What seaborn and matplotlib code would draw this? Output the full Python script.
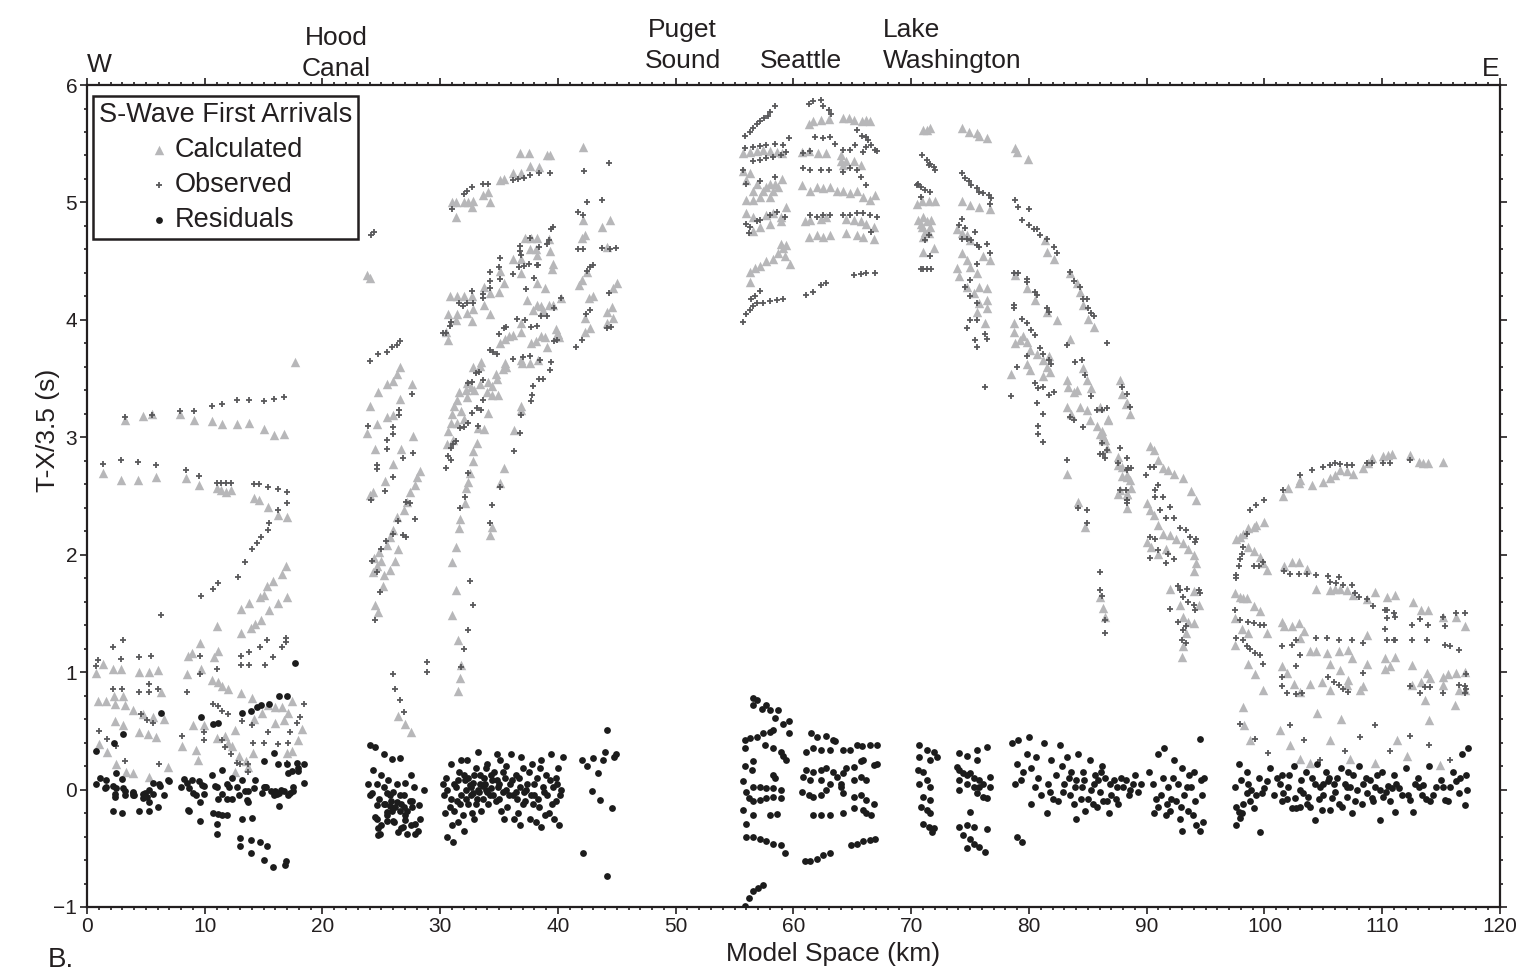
import numpy as np
import pandas as pd
import matplotlib
matplotlib.use("Agg")
import matplotlib.pyplot as plt
from matplotlib.ticker import MultipleLocator
import seaborn as sns

# ---- data: (model km, T-X/3.5 in s) ----
calc_west = [(3.2,3.15),(4.8,3.18),(5.5,3.20),(7.9,3.20),(9.1,3.15),(10.6,3.14),(11.5,3.11),(12.7,3.11),(13.8,3.12),(15.0,3.07),(15.9,3.02),(16.7,3.03),(17.7,3.64),
    (1.4,2.70),(2.9,2.64),(4.3,2.64),(5.9,2.66),(8.4,2.65),(9.5,2.59),(11.0,2.57),(11.4,2.55),(11.8,2.53),(12.2,2.55),(14.2,2.48),(14.6,2.47),(15.4,2.41),(16.2,2.34),(17.0,2.32),
    (16.9,1.90),(16.6,1.84),(15.8,1.78),(15.3,1.73),(15.0,1.66),(14.7,1.64),(13.8,1.59),(13.1,1.54),(17.0,1.64),(16.2,1.59),(15.5,1.53),(14.8,1.44),(14.3,1.41),(13.9,1.38),(13.1,1.33),
    (11.0,1.39),(9.6,1.25),(11.1,1.18),(10.8,1.13),(8.6,1.14),(8.9,1.16),(9.7,1.03),(8.5,0.98),(0.8,0.99),(1.4,1.07),(2.2,1.03),(2.9,1.03),(4.4,1.00),(5.3,1.00),(6.0,1.02),(6.3,0.83),
    (10.6,0.93),(11.1,0.92),(11.5,0.88),(12.0,0.86),(13.1,0.82),(14.0,0.78),(0.9,0.75),(1.6,0.75),(2.3,0.80),(2.4,0.73),(3.1,0.80),(3.2,0.72),(3.9,0.68),(4.8,0.64),(5.6,0.62),(6.5,0.60),
    (2.4,0.58),(3.1,0.55),(4.4,0.49),(5.2,0.47),(5.9,0.45),(1.0,0.39),(1.7,0.32),(2.5,0.22),(3.3,0.15),(3.9,0.14),(5.3,0.11),(6.9,0.19),(8.1,0.37),(9.0,0.55),(9.9,0.55),(9.4,0.25),(9.3,0.34),
    (11.0,0.44),(11.7,0.46),(12.0,0.40),(12.3,0.37),(12.6,0.51),(12.9,0.29),(13.5,0.24),(14.1,0.31),(14.2,0.60),(14.9,0.65),(15.4,0.72),(16.0,0.70),(16.6,0.70),(17.4,0.75),(16.0,0.57),
    (16.7,0.59),(17.1,0.65),(17.9,0.42),(18.3,0.52),(17.4,0.33),(17.0,0.31),(12.6,0.15),(13.7,0.19)]
obs_west = [(3.2,3.17),(5.5,3.19),(7.9,3.22),(9.1,3.22),(10.6,3.27),(11.5,3.28),(12.7,3.32),(13.8,3.32),(15.0,3.31),(15.9,3.33),(16.7,3.34),
    (1.4,2.77),(2.9,2.81),(4.3,2.79),(5.9,2.76),(8.4,2.72),(9.5,2.67),(11.0,2.61),(11.4,2.61),(11.8,2.61),(12.2,2.61),(14.2,2.60),(14.6,2.60),(15.4,2.58),(16.2,2.56),(17.0,2.53),
    (17.0,2.44),(16.2,2.38),(15.5,2.27),(15.4,2.21),(14.8,2.15),(14.4,2.10),(14.0,2.05),(13.4,1.94),(12.8,1.81),(11.1,1.76),(10.7,1.71),(9.7,1.65),(6.3,1.49),(17.7,4.71),
    (0.9,1.10),(0.8,1.05),(2.2,1.21),(3.1,1.27),(2.9,1.11),(4.4,1.13),(5.4,1.14),(5.3,0.90),(6.0,0.86),(4.4,0.83),(5.3,0.83),(2.2,0.86),(3.0,0.86),(8.5,0.83),(9.6,0.98),(11.0,1.03),
    (9.6,1.14),(13.1,1.14),(13.8,1.17),(14.7,1.21),(15.3,1.27),(16.6,1.21),(16.9,1.26),(16.9,1.29),(13.1,1.06),(13.8,1.06),(15.1,1.06),(15.8,1.13),(10.7,0.73),(11.1,0.71),(11.5,0.67),
    (12.0,0.64),(4.6,0.64),(5.6,0.57),(5.1,0.59),(1.0,0.50),(1.7,0.43),(2.5,0.37),(3.2,0.24),(6.1,0.22),(8.1,0.46),(9.9,0.49),(9.9,0.42),(11.5,0.42),(11.7,0.36),(12.2,0.30),(12.7,0.23),
    (13.0,0.22),(13.7,0.15),(13.2,0.58),(14.0,0.55),(15.4,0.49),(14.1,0.40),(15.0,0.40),(16.2,0.39),(17.1,0.40),(17.2,0.49),(17.8,0.57),(18.1,0.62),(18.4,0.73),(17.0,0.23),(13.7,0.22)]
res_west = [(0.8,0.05),(1.5,0.01),(1.6,0.02),(2.2,0.03),(2.4,-0.04),(2.4,-0.06),(2.2,-0.18),(3.0,-0.20),(3.1,0.01),(3.2,-0.05),(3.9,-0.03),(3.9,-0.05),(4.4,-0.18),(4.8,-0.04),
    (4.8,-0.07),(5.3,0.00),(5.3,-0.18),(5.3,-0.11),(5.6,-0.04),(6.0,-0.15),(6.5,-0.05),(6.1,0.05),(7.0,0.07),(8.0,0.02),(8.6,-0.17),(8.7,-0.18),(8.7,0.01),(9.0,-0.03),(9.3,-0.05),
    (9.6,-0.11),(9.6,-0.27),(9.9,0.03),(9.9,-0.04),(10.7,-0.20),(11.0,-0.29),(11.0,-0.38),(10.9,0.03),(11.1,-0.08),(11.1,-0.21),(11.5,-0.22),(11.9,-0.22),(11.5,-0.04),(11.9,-0.08),
    (12.3,-0.08),(12.1,0.02),(12.7,0.02),(12.9,-0.05),(13.0,-0.41),(13.0,-0.48),(13.2,-0.25),(13.4,-0.01),(13.6,-0.09),(13.7,-0.11),(13.9,-0.43),(13.9,-0.54),(14.0,-0.24),(14.2,0.01),
    (14.7,-0.45),(14.9,-0.03),(15.0,-0.60),(15.3,-0.48),(15.2,0.02),(15.0,0.02),(15.8,-0.66),(16.3,-0.14),(15.9,-0.05),(16.1,-0.04),(16.8,-0.64),(16.9,-0.61),(17.1,-0.05),(17.2,-0.03),
    (17.5,0.02),(16.3,-0.03),(16.7,-0.01),(0.8,0.33),(2.3,0.40),(3.1,0.47),(6.3,0.65),(9.7,0.62),(10.7,0.56),(11.1,0.57),(13.2,0.65),(13.9,0.67),(14.4,0.70),(14.8,0.72),(15.5,0.73),
    (16.3,0.80),(17.0,0.80),(17.7,1.08),(15.9,0.31),(15.0,0.24),(16.2,0.22),(17.0,0.22),(17.8,0.23),(18.4,0.22),(17.4,0.16),(17.9,0.18),(1.1,0.10),(1.6,0.08),(2.5,0.14),(3.0,0.09),
    (3.2,-0.01),(2.5,0.01),(3.9,-0.02),(4.0,-0.05),(4.9,-0.03),(5.1,-0.06),(5.6,0.06),(6.2,0.03),(6.9,0.08),(8.2,0.09),(8.5,0.06),(8.9,0.08),(9.5,0.07),(9.8,0.04),(10.6,0.12),
    (11.5,0.17),(11.0,0.02),(11.9,0.05),(12.3,0.10),(13.2,0.08),(13.7,-0.01),(14.3,0.08),(15.1,0.02),(15.6,-0.01),(16.0,-0.01),(16.5,0.00),(17.1,0.14),(17.5,-0.01),(17.9,0.16),(18.4,0.06)]

calc_hood = [(24.0,4.36),(23.8,4.38),(26.6,3.60),(26.3,3.54),(26.0,3.48),(25.5,3.45),(24.7,3.39),(24.0,3.27),(27.6,3.45),(26.6,3.33),(26.0,3.19),(25.5,3.17),(24.6,3.11),(23.8,3.04),
    (27.7,3.01),(24.5,2.90),(26.7,2.90),(26.0,2.77),(25.3,2.63),(24.3,2.53),(24.0,2.51),(28.3,2.71),(28.0,2.66),(27.9,2.59),(27.4,2.53),(27.2,2.45),(26.9,2.38),(26.3,2.32),(26.0,2.21),
    (25.7,2.15),(25.5,2.08),(26.4,2.05),(26.2,1.95),(25.7,1.87),(25.2,1.83),(25.1,1.73),(24.5,1.57),(24.7,1.51),(24.4,1.97),(24.8,2.02),(24.6,1.90),(25.0,1.95),(24.3,1.85),
    (26.4,0.63),(27.0,0.56),(27.5,0.49)]
obs_hood = [(24.1,4.72),(24.4,4.75),(24.0,3.65),(24.7,3.71),(25.5,3.73),(25.9,3.77),(26.3,3.79),(26.6,3.82),(23.9,3.10),(25.5,2.98),(26.0,3.03),(26.0,3.09),(26.5,3.19),(26.5,3.23),
    (27.6,3.37),(27.7,2.87),(24.6,2.76),(24.6,2.73),(25.5,2.90),(26.8,2.82),(26.0,2.66),(25.3,2.54),(24.1,2.47),(27.1,2.45),(27.4,2.44),(27.9,2.30),(26.4,2.29),(26.8,2.17),(27.1,2.15),
    (25.4,2.12),(26.0,2.18),(24.9,1.68),(24.5,1.44),(26.0,0.98),(26.2,0.86),(26.6,0.76),(26.9,0.66),(28.9,1.09),(28.9,1.00),(24.2,1.95),(25.0,2.05),(24.6,1.85)]
res_hood = [(24.0,0.38),(24.5,0.36),(25.2,0.30),(25.9,0.26),(26.6,0.27),(24.3,0.17),(25.0,0.12),(25.6,0.08),(26.3,0.05),(27.0,0.06),(27.8,0.02),(28.6,0.00),(24.2,-0.03),(24.8,-0.08),
    (25.3,-0.12),(25.8,-0.10),(26.2,-0.15),(26.7,-0.12),(27.2,-0.18),(27.6,-0.10),(28.2,-0.13),(24.6,-0.25),(25.0,-0.30),(25.5,-0.22),(26.1,-0.28),(26.8,-0.32),(27.5,-0.30),(28.1,-0.35),
    (24.9,-0.38),(26.4,-0.36),(27.0,-0.22),(25.7,-0.05),(26.9,-0.05),(28.3,-0.25),(27.5,0.12),(24.6,0.05),(25.9,-0.18),(23.9,0.05),(24.0,-0.05),(24.5,-0.23),(24.7,-0.33),(24.7,-0.39),
    (24.6,-0.13),(25.2,-0.12),(25.5,-0.19),(25.5,-0.27),(26.0,-0.27),(25.7,-0.14),(26.3,-0.11),(26.6,-0.05),(26.6,-0.18),(27.0,-0.26),(27.2,-0.38),(26.7,-0.33),(26.9,-0.15),(27.6,-0.15),
    (27.9,-0.29),(27.9,-0.38),(27.4,-0.10),(25.5,-0.03),(26.0,-0.02),(25.2,0.02)]

calc_mid = [(31.0,5.00),(31.3,5.00),(32.0,5.00),(32.4,5.00),(32.8,5.01),(32.7,4.96),(31.3,4.88),(33.6,5.06),(34.1,5.09),(34.2,5.00),(35.1,5.19),(35.4,5.20),(36.2,5.25),(36.9,5.25),
    (37.6,5.31),(38.4,5.30),(39.3,5.40),(36.8,5.42),(37.5,5.42),(39.1,5.40),(42.1,5.47),
    (37.2,4.70),(37.7,4.70),(38.2,4.70),(37.6,4.60),(38.1,4.60),(39.2,4.69),(39.3,4.59),(36.2,4.52),(36.9,4.52),(38.2,4.55),(39.6,4.48),(39.5,4.43),(36.9,4.40),(35.1,4.42),(35.4,4.31),
    (35.0,4.24),(33.7,4.28),(34.2,4.23),(30.8,4.20),(31.4,4.20),(32.0,4.20),(32.7,4.20),(33.7,4.13),(34.2,4.05),(32.8,4.09),(32.3,4.06),(31.4,4.05),(30.7,4.05),(32.7,3.99),(31.3,4.00),
    (30.5,3.90),(30.7,3.83),(38.2,4.31),(38.9,4.27),(37.4,4.17),(38.2,4.13),(38.6,4.12),(39.2,4.13),(39.6,4.13),(40.3,4.19),(37.9,4.08),(38.7,4.08),(39.8,3.92),(40.0,3.88),(39.8,3.86),
    (40.1,3.85),(38.9,3.85),(38.6,3.86),(38.1,3.82),(37.7,3.80),(36.9,3.97),(36.9,3.90),(36.2,3.87),(35.8,3.86),(35.5,3.84),(35.1,3.80),(35.5,3.63),(35.3,3.58),(35.6,3.60),(36.9,3.66),
    (36.95,3.63),(37.6,3.63),(38.3,3.66),(39.1,3.77),(33.5,3.64),(33.4,3.61),(32.8,3.60),(34.7,3.54),(34.8,3.50),(32.3,3.46),(32.6,3.43),(32.2,3.40),(32.9,3.40),(33.4,3.45),(34.1,3.47),
    (34.4,3.44),(34.0,3.39),(34.4,3.36),(34.9,3.36),(31.6,3.39),(31.4,3.32),(31.2,3.27),(31.0,3.20),(30.9,3.12),(31.8,3.22),(32.0,3.16),(32.3,3.34),(31.4,3.12),(30.7,3.05),(30.6,2.94),
    (31.1,2.98),(33.2,3.08),(33.7,3.07),(34.1,3.21),(33.1,2.95),(32.8,2.88),(32.8,2.80),(32.5,2.70),(32.4,2.62),(32.2,2.57),(32.1,2.44),(31.7,2.30),(31.6,2.23),(31.3,2.07),(36.9,3.27),
    (36.9,3.23),(36.3,3.06),(35.4,2.74),(35.1,2.61),(34.4,2.24),(34.2,2.17),(44.4,4.85),(43.7,4.79),(42.1,4.85),(42.0,4.70),(42.3,4.72),(44.2,4.62),(42.0,4.34),(41.8,4.30),(42.5,4.41),
    (45.0,4.31),(44.7,4.27),(43.0,4.20),(42.6,4.19),(44.6,4.11),(44.2,4.07),(44.7,4.02),(44.2,3.97),(42.3,4.02),(42.7,3.93),(42.3,3.90),(31.0,1.94),(31.3,1.70),(31.0,1.49),(31.5,1.27),
    (31.8,1.06),(31.7,0.95),(31.5,0.84)]
obs_mid = [(31.0,4.94),(32.0,5.07),(32.3,5.10),(32.7,5.13),(33.6,5.16),(34.1,5.16),(36.2,5.19),(36.6,5.20),(37.1,5.21),(37.6,5.23),(38.4,5.25),(39.3,5.25),(42.2,5.27),(44.3,5.34),
    (39.4,4.77),(39.6,4.79),(39.2,4.68),(36.8,4.63),(36.8,4.59),(36.9,4.55),(37.6,4.70),(38.4,4.62),(37.5,4.48),(37.1,4.46),(36.7,4.45),(38.3,4.47),(36.2,4.39),(35.1,4.53),(35.0,4.45),
    (34.2,4.41),(34.2,4.33),(35.1,4.35),(34.2,4.27),(33.6,4.22),(33.6,4.19),(32.7,4.25),(31.6,4.14),(31.9,4.12),(32.3,4.14),(32.8,4.14),(30.9,3.98),(30.8,3.95),(30.5,3.89),(30.2,3.89),
    (37.3,4.26),(38.0,4.36),(38.2,4.47),(39.1,4.65),(40.3,4.19),(38.6,4.03),(39.1,4.03),(39.7,4.10),(39.9,3.83),(39.7,3.82),(37.7,3.94),(38.2,3.95),(36.5,4.01),(37.2,4.00),(35.0,3.88),
    (35.4,3.93),(35.6,3.94),(34.2,3.74),(34.5,3.73),(34.8,3.71),(36.2,3.67),(37.0,3.68),(37.6,3.69),(38.5,3.66),(39.4,3.64),(39.3,3.57),(38.4,3.50),(38.7,3.50),(37.9,3.44),(37.8,3.36),
    (37.7,3.31),(36.9,3.19),(36.8,3.04),(36.3,2.88),(34.4,2.42),(34.2,2.27),(35.1,2.58),(33.3,3.56),(33.0,3.55),(33.6,3.49),(32.7,3.47),(32.4,3.46),(33.6,3.32),(33.5,3.23),(33.1,3.25),
    (32.7,3.21),(32.4,3.12),(32.0,3.09),(31.7,3.08),(33.2,3.10),(31.3,2.97),(31.1,2.94),(30.9,2.91),(30.7,2.84),(30.9,2.81),(30.5,2.74),(32.4,2.70),(32.1,2.49),(31.7,2.40),
    (42.5,5.00),(43.7,5.02),(41.7,4.92),(42.1,4.89),(41.7,4.60),(42.1,4.60),(43.7,4.61),(44.4,4.60),(44.9,4.61),(43.0,4.47),(42.7,4.45),(42.5,4.42),(44.3,4.23),(42.7,4.08),(42.4,4.05),
    (44.2,3.93),(44.5,3.94),(42.0,3.83),(41.5,3.77),(32.5,1.78),(32.8,1.57),(32.4,1.36),(31.8,1.04),(32.0,1.20)]
res_mid = [(30.3,-0.05),(30.5,0.10),(30.8,-0.15),(30.9,0.22),(31.0,-0.30),(31.2,0.05),(31.4,-0.10),(31.6,0.15),(31.8,-0.05),(31.9,-0.22),(32.1,0.08),(32.3,0.25),(32.4,-0.12),
    (32.6,0.02),(32.8,-0.03),(32.9,0.12),(33.1,-0.08),(33.2,0.32),(33.4,0.05),(33.5,-0.18),(33.7,0.10),(33.9,0.00),(34.0,0.22),(34.2,-0.05),(34.4,0.08),(34.6,0.15),(34.7,-0.10),
    (34.9,0.02),(35.1,0.25),(35.3,-0.02),(35.5,0.10),(35.7,-0.15),(35.9,0.05),(36.0,0.30),(36.2,-0.05),(36.4,0.12),(36.6,-0.20),(36.8,0.02),(37.0,0.18),(37.2,-0.10),(37.4,0.05),
    (37.6,-0.25),(37.8,0.22),(38.0,-0.05),(38.2,0.10),(38.4,-0.15),(38.6,0.25),(38.8,-0.02),(39.0,0.12),(39.2,-0.20),(39.4,0.30),(39.6,0.02),(39.8,-0.10),(40.0,0.18),(40.2,-0.05),
    (40.4,0.28),(40.1,-0.30),(30.6,-0.40),(31.1,-0.45),(31.5,-0.28),(32.0,-0.35),(32.7,-0.20),(33.0,0.18),(33.3,-0.02),(34.1,-0.12),(35.0,-0.08),(36.5,-0.08),(37.1,-0.02),(38.1,-0.28),
    (38.9,-0.22),(39.7,-0.25),(32.2,0.00),(32.5,0.04),(33.6,0.03),(34.3,0.01),(31.3,0.02),(30.4,-0.20),(34.8,0.30),(35.6,0.20),(36.9,0.28),(38.5,0.18),(39.9,0.05),(37.9,-0.12),
    (36.3,-0.25),(35.2,-0.18),(30.2,0.05),(30.6,0.00),(30.9,-0.08),(31.2,-0.18),(31.5,0.08),(31.7,-0.12),(32.0,0.12),(32.2,-0.08),(32.4,0.10),(32.6,-0.05),(32.8,0.06),(33.0,-0.12),
    (33.2,0.00),(33.4,0.12),(33.6,-0.08),(33.8,0.05),(34.0,-0.02),(34.3,0.12),(34.5,-0.05),(34.8,0.08),(35.0,0.05),(35.3,0.15),(35.6,0.00),(35.8,-0.05),(36.1,0.08),(36.4,-0.02),
    (36.7,0.10),(37.0,-0.12),(37.3,0.00),(37.5,0.15),(37.7,-0.05),(38.0,0.05),(38.3,-0.08),(38.7,0.02),(39.1,-0.05),(39.3,0.08),(39.5,-0.12),(39.8,0.10),(40.3,0.00),(33.9,0.18),
    (32.9,-0.25),(31.8,0.25),(35.4,-0.25),(36.8,-0.30),(38.6,-0.32),
    (42.0,0.25),(43.0,0.27),(43.8,0.25),(44.2,0.51),(44.0,0.32),(44.8,0.28),(43.4,0.14),(42.9,-0.01),(43.6,-0.09),(44.6,-0.16),(42.1,-0.54),(44.2,-0.74),(42.5,0.20),(44.9,0.30)]

calc_seattle = [(61.3,5.67),(62.3,5.70),(63.0,5.71),(64.2,5.72),(65.1,5.70),(65.8,5.69),(66.5,5.69),(61.7,5.69),(64.7,5.72),(66.2,5.70),
    (55.7,5.42),(56.3,5.43),(56.9,5.44),(57.4,5.45),(58.0,5.44),(58.6,5.43),(59.0,5.42),(60.7,5.43),(61.3,5.44),(62.1,5.42),(62.8,5.42),(64.0,5.40),(64.5,5.35),(65.1,5.35),(65.7,5.32),
    (55.7,5.27),(56.0,5.19),(56.3,5.25),(56.6,5.10),(56.9,5.16),(57.4,5.10),(57.7,5.13),(58.0,5.16),(58.4,5.16),(58.7,5.13),(59.0,5.20),(60.7,5.15),(61.4,5.10),(62.0,5.13),(62.5,5.12),
    (63.1,5.13),(63.7,5.10),(64.2,5.10),(64.8,5.08),(65.4,5.10),(65.9,5.05),(66.5,5.02),(66.9,5.06),(64.0,5.35),(64.2,5.32),(57.2,5.05),(56.6,5.02),(56.0,5.02),(58.3,5.10),(58.0,5.05),
    (56.0,4.91),(56.6,4.88),(57.7,4.89),(58.3,4.91),(58.9,4.88),(59.4,4.96),(61.0,4.84),(61.4,4.85),(62.3,4.86),(62.8,4.88),(64.5,4.86),(65.1,4.85),(65.7,4.84),(66.2,4.82),(66.8,4.79),
    (61.3,4.71),(62.0,4.72),(62.5,4.71),(63.1,4.72),(64.5,4.74),(65.4,4.72),(65.9,4.71),(66.8,4.69),
    (56.3,4.32),(56.3,4.41),(56.7,4.44),(57.2,4.46),(57.7,4.50),(58.3,4.52),(58.7,4.57),(59.1,4.61),(59.4,4.64),(59.7,4.48),(59.3,4.54),(58.9,4.65),(56.6,4.76),(57.2,4.79),(58.0,4.82),(58.9,4.84)]
obs_seattle = [(55.9,5.57),(56.3,5.60),(56.6,5.63),(56.9,5.67),(57.2,5.69),(57.5,5.72),(57.8,5.74),(58.0,5.77),(58.4,5.82),(61.3,5.84),(61.7,5.86),(62.3,5.87),(62.5,5.82),(63.0,5.79),(63.2,5.75),
    (55.9,5.46),(56.6,5.47),(57.2,5.48),(57.7,5.49),(58.4,5.50),(59.1,5.49),(59.6,5.55),(56.6,5.35),(57.2,5.36),(57.7,5.38),(58.3,5.39),(58.9,5.40),(59.4,5.43),(60.8,5.42),(61.4,5.44),
    (61.8,5.56),(62.5,5.55),(63.1,5.56),(63.5,5.50),(64.2,5.45),(64.8,5.45),(65.2,5.49),(65.9,5.43),(66.2,5.47),(66.9,5.45),(66.2,5.56),(66.6,5.49),(67.1,5.44),(65.4,5.62),(65.8,5.57),(66.3,5.53),
    (55.7,5.28),(56.0,5.16),(57.2,5.18),(58.4,5.22),(60.8,5.29),(61.4,5.28),(62.3,5.28),(63.0,5.28),(64.2,5.26),(64.8,5.29),(65.4,5.28),(65.7,5.22),(66.2,5.15),
    (56.0,4.82),(56.3,4.79),(56.2,4.74),(56.9,4.84),(57.2,4.85),(58.0,4.89),(58.6,4.92),(59.3,4.88),(61.4,4.89),(62.0,4.88),(62.5,4.89),(63.1,4.89),(64.2,4.89),(64.8,4.89),(65.4,4.91),
    (65.9,4.91),(66.5,4.89),(67.1,4.88),(66.6,4.75),
    (55.7,3.98),(56.0,4.05),(56.3,4.08),(56.6,4.12),(56.9,4.14),(57.4,4.14),(58.0,4.16),(58.6,4.17),(59.1,4.18),(56.4,4.18),(56.7,4.20),(57.2,4.25),(61.1,4.21),(61.7,4.24),(62.3,4.30),
    (62.8,4.31),(65.1,4.38),(65.7,4.39),(66.2,4.40),(66.9,4.40)]
res_seattle = [(56.6,0.78),(56.9,0.76),(56.6,0.72),(57.3,0.69),(57.7,0.72),(58.0,0.68),(58.7,0.68),(58.4,0.61),(59.1,0.56),(59.6,0.58),(59.6,0.48),(55.9,0.42),(56.3,0.44),(56.9,0.45),
    (57.4,0.48),(58.0,0.49),(58.3,0.51),(55.9,0.35),(57.6,0.38),(58.3,0.35),(58.9,0.32),(59.1,0.29),(59.4,0.25),(55.9,0.20),(56.5,0.17),(56.6,0.24),(58.3,0.12),(58.4,0.10),(55.7,0.07),
    (56.0,-0.02),(56.6,0.02),(57.2,0.02),(57.7,0.01),(58.3,0.01),(58.9,0.00),(56.2,-0.07),(56.6,-0.10),(57.2,-0.09),(57.7,-0.07),(58.3,-0.06),(58.9,-0.07),(55.7,-0.17),(56.6,-0.22),
    (58.0,-0.22),(58.6,-0.21),(56.0,-0.29),(56.0,-0.40),(56.6,-0.40),(57.2,-0.42),(57.7,-0.44),(58.3,-0.46),(58.9,-0.47),(59.3,-0.54),(55.9,-0.99),(56.2,-0.92),(56.6,-0.86),(57.0,-0.84),
    (57.4,-0.81),(61.5,0.48),(62.0,0.45),(62.8,0.46),(63.4,0.42),(63.5,0.41),(61.1,0.32),(61.7,0.35),(62.3,0.34),(63.1,0.34),(64.2,0.34),(64.8,0.34),(65.4,0.38),(65.8,0.37),(66.5,0.38),
    (67.1,0.38),(61.1,0.17),(61.7,0.15),(62.3,0.17),(62.8,0.18),(63.4,0.15),(63.7,0.11),(64.2,0.14),(64.5,0.18),(65.1,0.19),(65.7,0.24),(65.9,0.25),(66.8,0.21),(67.1,0.22),(60.8,0.11),
    (61.4,0.08),(62.3,0.08),(63.1,0.05),(64.0,0.05),(65.1,0.08),(65.7,0.11),(66.2,0.08),(60.7,-0.02),(61.3,-0.05),(61.7,-0.06),(62.3,-0.05),(62.8,0.00),(64.0,0.02),(64.2,-0.03),
    (65.1,-0.06),(65.7,-0.05),(66.2,-0.09),(66.8,-0.12),(61.7,-0.22),(62.3,-0.22),(63.1,-0.22),(64.2,-0.20),(65.1,-0.16),(65.9,-0.17),(66.2,-0.20),(66.6,-0.22),(61.0,-0.61),(61.4,-0.61),
    (62.0,-0.59),(62.5,-0.56),(63.1,-0.54),(64.9,-0.47),(65.4,-0.46),(65.9,-0.44),(66.5,-0.43),(66.9,-0.42)]

calc_lake = [(71.0,5.62),(71.6,5.63),(71.3,5.62),(74.3,5.63),(74.9,5.60),(75.6,5.59),(75.8,5.57),(76.4,5.55),(78.8,5.46),(79.0,5.43),(79.9,5.37),
    (70.5,4.99),(70.9,5.01),(71.5,5.01),(72.0,5.01),(70.6,4.85),(71.0,4.88),(71.3,4.84),(71.6,4.79),(70.9,4.79),(71.2,4.75),(71.5,4.74),(71.0,4.71),(70.8,4.82),(71.7,4.85),(71.0,4.58),(71.9,4.61),
    (74.3,5.01),(75.0,4.98),(75.8,4.96),(76.7,4.94),(73.9,4.77),(74.3,4.74),(74.7,4.72),(75.0,4.68),(74.3,4.57),(74.7,4.51),(75.0,4.45),(75.6,4.40),(73.9,4.44),(74.1,4.37),(74.7,4.28),
    (75.8,4.28),(76.4,4.27),(75.3,4.23),(75.8,4.14),(76.4,4.17),(75.6,4.07),(76.3,3.97),(76.4,4.10),(76.7,4.51),(76.1,4.54),
    (78.7,3.97),(78.7,3.90),(78.8,3.80),(79.2,3.83),(79.5,3.86),(79.8,3.81),(80.1,3.74),(80.7,3.71),(81.2,3.66),(81.5,3.60),(81.8,3.56),(81.2,3.52),(80.1,3.57),(78.5,3.54),(79.8,3.62),
    (81.7,3.69),(78.8,4.38),(79.8,4.27),(80.5,4.17),(81.5,4.07),(82.4,4.00),(81.4,4.68),(81.5,4.58),(82.1,4.52),
    (83.5,4.40),(84.1,4.31),(84.3,4.24),(84.6,4.13),(85.0,4.01),(85.5,3.94),(83.5,3.84),(84.6,3.59),(84.9,3.49),(85.3,3.42),(83.2,3.49),(83.3,3.43),(83.8,3.39),(84.1,3.40),(84.3,3.26),
    (84.9,3.23),(83.2,3.26),(83.6,3.20),(85.2,3.15),(86.0,3.26),(86.7,3.16),(85.8,3.10),(86.0,3.03),(86.3,2.98),(86.6,2.91),(83.2,2.69),(84.2,2.45),(84.8,2.24),(87.7,3.49),(87.9,3.37),
    (88.3,3.29),(87.6,2.83),(87.9,2.75),(88.3,2.66),(87.7,2.55),(88.3,2.52),
    (88.2,3.28),(88.6,3.20),(86.7,3.15),(86.3,3.01),(86.5,2.98),(86.2,3.05),(87.6,2.76),(87.9,2.67),(88.3,2.68),(88.6,2.64),(88.7,2.57),(87.6,2.52),(88.3,2.52),(88.3,2.40),
    (90.3,2.93),(90.6,2.89),(91.0,2.81),(91.4,2.74),(91.8,2.72),(92.3,2.69),(93.1,2.65),(93.8,2.54),(94.2,2.47),(90.0,2.44),(90.3,2.38),(90.6,2.34),(91.0,2.25),(91.4,2.18),(92.0,2.17),
    (92.5,2.13),(93.1,2.10),(93.5,2.05),(94.0,2.00),(94.2,1.93),(94.0,1.86),(90.0,2.11),(90.4,2.07),(91.0,2.01),(91.6,2.05),(92.0,1.71),(92.8,1.57),(94.0,1.69),(94.4,1.57),(93.1,1.47),
    (93.5,1.43),(94.0,1.42),(93.3,1.33),(93.1,1.22),(93.0,1.13),(86.0,1.64),(86.3,1.55),(86.5,1.47)]
obs_lake = [(70.9,5.40),(71.3,5.36),(71.6,5.33),(71.9,5.30),(72.0,5.28),(71.5,5.32),(70.6,5.16),(70.8,5.13),(71.2,5.11),(71.6,5.09),(70.8,5.05),(70.5,5.15),
    (74.3,5.25),(74.6,5.21),(74.9,5.18),(75.1,5.15),(75.6,5.12),(75.8,5.09),(76.1,5.08),(76.6,5.06),(76.8,5.04),(76.7,4.99),(71.2,4.68),(71.5,4.72),(71.6,4.54),(70.8,4.43),(71.0,4.43),
    (71.3,4.43),(71.7,4.43),(74.3,4.86),(74.1,4.81),(74.6,4.78),(74.7,4.69),(75.1,4.68),(75.6,4.64),(74.3,4.69),(75.4,4.75),(75.8,4.62),(76.4,4.65),(76.7,4.57),(75.6,4.48),(75.0,4.34),
    (74.6,4.28),(75.0,4.20),(75.6,4.14),(75.0,4.00),(75.6,4.00),(74.7,3.93),(75.4,3.83),(76.3,3.88),(76.4,3.84),(75.6,3.77),(76.3,3.43),
    (78.8,5.02),(79.1,4.96),(80.0,4.94),(79.4,4.85),(80.0,4.81),(80.4,4.77),(80.7,4.77),(80.9,4.72),(81.5,4.69),(82.1,4.62),(82.4,4.57),(78.7,4.40),(79.1,4.40),(79.8,4.35),(79.8,4.32),
    (80.5,4.24),(80.7,4.21),(81.5,4.10),(81.7,4.07),(78.7,4.13),(78.7,4.10),(79.4,4.01),(79.8,3.97),(80.2,3.91),(80.5,3.87),(79.0,3.60),(79.8,3.69),(80.9,3.76),(81.2,3.71),(81.7,3.66),
    (81.9,3.62),(80.5,3.46),(80.8,3.42),(81.2,3.43),(81.7,3.36),(82.1,3.39),(78.5,3.35),(80.7,3.29),(81.2,3.20),(80.8,3.10),(80.8,3.03),(81.2,2.96),
    (83.5,4.41),(83.8,4.33),(84.3,4.28),(84.6,4.18),(84.9,4.18),(85.0,4.10),(85.3,4.06),(85.5,4.03),(83.2,3.79),(83.9,3.64),(84.5,3.66),(84.8,3.53),(85.3,3.35),(83.5,3.17),(83.8,3.15),
    (84.6,3.09),(85.8,3.23),(86.2,3.23),(86.0,2.86),(86.6,2.89),(83.2,2.81),(84.2,2.40),(84.9,2.38),(84.9,2.27),(86.6,3.80),(87.9,3.43),(88.3,3.37),(87.6,2.78),(88.3,2.72),(87.7,2.55),
    (88.3,2.47),(86.2,3.23),(86.6,3.25),(88.6,3.26),(87.7,2.91),(88.3,2.82),(88.4,2.74),(88.7,2.74),(88.2,2.55),(88.3,2.47),(88.3,2.44),(86.3,2.86),(86.5,2.82),(86.2,2.95),
    (89.9,2.68),(90.3,2.75),(90.6,2.75),(90.7,2.55),(91.0,2.59),(90.7,2.49),(91.4,2.49),(91.1,2.38),(91.6,2.31),(92.3,2.31),(92.0,2.41),(92.8,2.23),(93.3,2.21),(93.7,2.15),(94.1,2.11),
    (94.2,2.13),(90.3,2.15),(90.7,2.13),(91.0,2.04),(91.8,2.01),(92.3,1.96),(91.6,1.93),(90.3,1.97),(92.7,1.73),(92.8,1.70),(93.4,1.71),(94.4,1.70),(94.5,1.67),(93.1,1.64),(93.5,1.60),
    (94.0,1.57),(94.1,1.53),(92.0,1.54),(92.7,1.43),(93.1,1.36),(93.3,1.39),(93.0,1.27),(93.3,1.25),(86.0,1.85),(86.0,1.70),(86.2,1.65),(86.5,1.44),(86.5,1.33)]
res_lake = [(70.7,0.38),(71.3,0.34),(71.9,0.32),(72.2,0.28),(70.7,0.28),(71.6,0.25),(70.6,0.17),(71.0,0.15),(71.3,0.08),(70.7,0.05),(71.6,0.02),(71.0,-0.06),(71.6,-0.09),(70.8,-0.15),
    (71.3,-0.17),(71.6,-0.20),(71.0,-0.29),(71.5,-0.32),(71.8,-0.36),(71.9,-0.33),(73.9,0.19),(74.1,0.17),(74.4,0.14),(74.7,0.12),(75.0,0.14),(75.3,0.10),(75.8,0.08),(76.1,0.05),
    (76.7,0.11),(76.7,0.02),(74.1,0.08),(74.7,0.05),(75.3,0.02),(75.6,-0.03),(76.1,-0.06),(76.4,-0.07),(75.0,-0.19),(74.1,-0.32),(74.7,-0.30),(75.3,-0.32),(76.4,-0.34),(74.4,-0.39),
    (75.0,-0.42),(75.3,-0.46),(75.8,-0.49),(76.3,-0.53),(74.7,-0.50),(74.7,0.29),(75.6,0.25),(75.6,0.34),(76.4,0.36),(74.1,0.00),(75.8,0.02),(74.1,0.31),
    (78.6,0.40),(79.1,0.42),(80.0,0.45),(81.3,0.40),(82.6,0.38),(79.0,0.22),(79.5,0.15),(80.2,0.18),(80.8,0.10),(81.6,0.05),(82.3,0.12),(78.8,0.05),(79.3,0.08),(80.5,0.02),(81.0,-0.05),
    (81.8,-0.02),(82.5,-0.10),(83.0,0.05),(83.5,-0.05),(84.0,0.08),(84.5,0.02),(85.0,-0.08),(85.5,0.05),(86.0,-0.02),(86.5,0.10),(87.0,-0.05),(87.5,0.02),(88.2,0.08),(88.8,0.05),
    (89.3,-0.02),(84.2,0.30),(85.2,0.25),(86.2,0.20),(85.8,-0.15),(84.8,-0.18),(83.8,-0.12),(86.8,-0.20),(87.6,-0.12),(84.0,-0.25),(80.2,-0.12),(79.0,-0.40),(79.4,-0.45),(81.5,-0.20),
    (82.8,0.20),(83.2,0.28),(84.6,0.15),(85.6,0.12),(86.6,-0.10),(87.2,0.08),(88.5,-0.05),(89.0,0.12),(91.0,0.30),(91.5,0.35),(92.3,0.25),(93.0,0.18),(94.0,0.15),(94.5,0.43),(90.5,0.05),
    (91.2,-0.05),(91.8,0.02),(92.5,-0.10),(93.2,-0.05),(93.8,0.02),(94.6,0.08),(91.0,-0.15),(91.6,-0.22),(92.0,-0.18),(92.8,-0.25),(93.5,-0.18),(94.2,-0.30),(94.8,-0.28),(90.8,-0.08),
    (93.0,-0.35),(94.5,-0.35),(92.2,0.10),(93.6,0.12),(90.2,0.15),(79.8,0.30),(80.6,0.28),(81.9,0.25),(82.0,-0.08),(82.9,-0.02),(83.4,0.10),(83.9,0.02),(84.4,-0.08),(85.3,0.00),
    (85.9,0.08),(86.3,-0.10),(86.9,0.05),(87.4,-0.08),(88.0,0.02),(88.6,0.00),(89.5,0.05),(84.7,0.08),(85.4,-0.12),(83.6,0.15),(86.1,0.15),(87.8,0.10),(91.4,0.10),(92.1,-0.08),
    (92.7,0.05),(93.4,0.02),(94.1,-0.10),(94.7,-0.05),(91.7,-0.12),(93.9,-0.22),(92.9,-0.15),(90.6,-0.20),(94.9,0.10)]

calc_east = [(97.6,2.13),(97.9,2.15),(98.2,2.18),(98.6,2.23),(99.1,2.24),(99.3,2.25),(100.0,2.28),(101.6,2.50),(102.0,2.57),(102.9,2.61),(103.0,2.64),(104.0,2.59),(105.0,2.62),
    (105.6,2.65),(106.0,2.68),(106.4,2.72),(107.0,2.71),(107.5,2.69),(108.4,2.74),(108.8,2.78),(109.1,2.82),(110.1,2.84),(110.5,2.85),(110.8,2.86),(112.4,2.85),(113.1,2.79),(113.5,2.78),
    (113.9,2.78),(115.2,2.79),(98.6,2.07),(99.1,2.03),(99.6,1.98),(99.9,1.93),(100.2,1.87),
    (101.7,1.90),(102.3,1.94),(102.9,1.94),(103.6,1.88),(104.4,1.71),(105.6,1.70),(106.0,1.71),(106.4,1.71),(107.0,1.70),(107.5,1.66),(108.7,1.62),(109.4,1.68),(110.4,1.64),(111.1,1.66),
    (112.6,1.60),(113.3,1.53),(113.9,1.53),(115.2,1.47),(116.3,1.47),(117.0,1.39),
    (97.5,1.67),(97.9,1.64),(98.2,1.63),(98.5,1.63),(99.1,1.56),(99.6,1.52),(97.5,1.46),(98.1,1.37),(98.6,1.33),(100.2,1.33),(101.5,1.43),(101.7,1.39),(102.3,1.39),(102.9,1.42),(103.0,1.29),
    (103.4,1.35),(103.9,1.18),(104.4,1.18),(105.3,1.16),(106.3,1.18),(107.1,1.19),(107.4,1.12),(108.7,1.32),(105.6,1.07),(106.4,1.02),(107.1,0.93),(108.4,0.88),(108.7,1.07),(110.2,1.12),
    (111.1,1.13),(112.5,1.06),(113.8,0.99),(114.1,0.95),(115.2,0.96),(115.6,0.98),(116.3,0.99),(117.0,1.00),(110.2,1.03),(110.7,1.05),(101.5,1.05),(101.9,0.99),(102.5,0.90),(103.0,0.83),
    (103.9,0.90),(104.9,0.92),(105.6,0.85),(107.0,0.89),(108.1,0.85),(112.5,0.89),(113.3,0.92),(115.2,0.89),(116.5,0.85),(97.5,1.23),(98.6,1.07),(99.2,0.98),(99.9,0.85),
    (98.2,0.70),(98.3,0.55),(98.8,0.42),(101.3,0.51),(102.2,0.38),(103.0,0.26),(103.9,0.23),(105.6,0.42),(107.3,0.26),(109.4,0.23),(111.3,0.42),(112.1,0.29),(113.6,0.76),(114.0,0.59),
    (114.9,0.21),(116.2,0.72),(117.0,0.85),(106.5,0.60),(104.5,0.65)]
obs_east = [(97.6,1.80),(97.6,1.83),(97.8,1.90),(97.9,1.96),(98.1,2.01),(98.2,2.07),(98.5,2.18),(98.8,2.38),(99.3,2.42),(100.0,2.47),(101.6,2.55),(103.0,2.68),(104.0,2.72),(105.0,2.75),
    (105.6,2.76),(106.0,2.78),(106.4,2.77),(107.0,2.76),(107.4,2.76),(108.7,2.78),(109.1,2.78),(110.1,2.78),(110.7,2.78),(112.4,2.81),(99.1,1.90),(99.5,1.90),(99.9,1.94),
    (101.7,1.86),(102.2,1.84),(102.9,1.84),(103.6,1.84),(104.4,1.83),(105.4,1.82),(106.3,1.81),(105.6,1.77),(106.1,1.76),(106.7,1.74),(107.4,1.74),(107.7,1.67),(108.0,1.64),(108.7,1.62),
    (109.2,1.56),(110.4,1.53),(111.0,1.50),(111.1,1.47),(110.4,1.46),(110.2,1.37),(110.4,1.27),(111.0,1.27),(112.5,1.40),(113.2,1.45),(113.9,1.40),(115.2,1.47),(116.3,1.50),(117.0,1.50),
    (115.3,1.39),(115.3,1.23),(115.8,1.22),(116.5,1.19),
    (97.5,1.53),(97.9,1.44),(98.6,1.43),(99.1,1.42),(99.6,1.40),(100.0,1.40),(97.6,1.29),(98.2,1.27),(98.5,1.22),(98.8,1.20),(99.2,1.16),(99.6,1.15),(99.9,1.07),(101.5,1.22),(102.3,1.23),
    (102.7,1.27),(103.0,1.15),(102.7,1.05),(101.5,0.96),(101.5,0.88),(101.9,0.82),(102.7,0.81),(103.2,0.82),(104.4,1.29),(105.3,1.29),(106.3,1.27),(107.4,1.27),(108.4,1.25),(108.4,0.99),
    (107.1,0.83),(110.2,1.53),(111.1,1.27),(112.5,1.27),(113.8,1.27),(112.4,0.88),(113.2,0.82),(113.6,0.87),(114.1,0.87),(115.2,0.82),(116.5,0.89),(117.0,0.88),(117.0,0.82),(105.4,0.96),
    (105.9,0.92),(106.3,0.89),(106.7,0.86),(97.9,0.56),(99.2,0.43),(100.3,0.31),(102.2,0.55),(103.4,0.42),(104.7,0.25),(106.8,0.33),(108.1,0.45),(109.4,0.55),(110.7,0.33),(112.4,0.46),
    (114.0,0.38),(115.8,0.25),(117.1,0.86),(117.1,0.98)]
res_east = [(97.5,0.02),(97.6,-0.15),(97.8,-0.19),(97.6,-0.30),(97.9,-0.24),(98.1,-0.20),(98.2,-0.12),(98.5,-0.03),(98.6,0.05),(98.8,-0.10),(99.1,-0.16),(99.6,-0.36),(99.8,-0.03),
    (100.0,0.01),(100.2,0.07),(101.3,0.05),(101.5,-0.10),(101.6,-0.03),(102.0,0.02),(102.3,-0.16),(102.6,-0.07),(102.7,-0.16),(103.0,-0.15),(103.0,0.00),(103.3,-0.03),(103.7,-0.06),
    (103.9,-0.15),(104.3,-0.26),(104.3,0.05),(104.7,0.02),(104.9,-0.17),(105.0,-0.05),(105.4,0.07),(105.6,-0.17),(105.7,-0.07),(106.0,-0.02),(106.3,-0.12),(106.6,-0.15),(107.0,-0.06),
    (107.3,0.02),(107.4,-0.20),(107.7,-0.10),(108.3,-0.12),(108.4,0.05),(108.7,-0.03),(109.1,-0.07),(109.2,-0.10),(109.8,0.00),(109.8,-0.26),(110.1,-0.06),(110.7,-0.10),(110.8,0.01),
    (111.1,-0.19),(111.4,0.01),(112.2,-0.05),(112.4,-0.09),(112.6,-0.19),(113.1,0.02),(113.4,-0.05),(113.5,0.04),(114.1,-0.10),(114.3,-0.05),(115.2,0.02),(115.3,-0.09),(115.6,-0.10),
    (116.3,0.07),(116.5,-0.03),(117.0,-0.13),(117.2,0.00),(97.8,0.22),(98.5,0.15),(99.5,0.10),(100.5,0.18),(101.5,0.12),(102.5,0.20),(103.5,0.15),(104.5,0.22),(105.5,0.10),(106.5,0.18),
    (107.5,0.12),(108.0,0.20),(109.0,0.08),(110.0,0.15),(111.0,0.12),(112.0,0.18),(113.0,0.10),(114.0,0.20),(115.0,0.08),(116.0,0.15),(116.8,0.30),(117.3,0.35),(105.0,0.05),(107.0,0.02),
    (110.5,0.03),(98.0,0.08),(98.9,0.00),(99.3,-0.05),(100.8,-0.05),(101.1,0.10),(101.9,-0.08),(102.1,0.12),(103.1,0.08),(103.6,-0.12),(104.0,0.10),(104.6,-0.08),(105.2,0.15),
    (105.9,0.05),(106.2,0.10),(106.8,0.05),(107.1,0.15),(107.9,0.00),(108.6,0.10),(109.4,0.02),(109.6,0.12),(110.3,-0.02),(111.2,0.05),(111.7,-0.05),(112.8,0.05),(113.7,-0.08),
    (114.6,0.02),(115.8,0.02),(116.6,0.10),(117.1,0.12)]

legend_title = "S-Wave First Arrivals"
series_labels = ["Calculated", "Observed", "Residuals"]
places = [("W", 0.0, "left"), ("Hood\nCanal", 21.2, "center"), ("Puget\nSound", 50.6, "center"),
          ("Seattle", 60.6, "center"), ("Lake\nWashington", 67.6, "left"), ("E", 120.0, "right")]
place_pad = [6, 3, 9, 9, 9, 3]


def frame(groups):
    pts = [p for g in groups for p in g]
    return pd.DataFrame(pts, columns=["km", "t"])


calc = frame([calc_west, calc_hood, calc_mid, calc_seattle, calc_lake, calc_east])
obs = frame([obs_west, obs_hood, obs_mid, obs_seattle, obs_lake, obs_east])
res = frame([res_west, res_hood, res_mid, res_seattle, res_lake, res_east])

sns.set_style("ticks")
plt.rcParams["font.family"] = ["Liberation Sans", "DejaVu Sans"]
ink = "#231f20"

fig = plt.figure(figsize=(15.18, 9.74), dpi=100)
ax = fig.add_axes([0.0573, 0.0688, 0.9308, 0.8439])

sns.scatterplot(data=calc, x="km", y="t", marker="^", s=46, color="#b7b7b9", linewidth=0,
                ax=ax, label=series_labels[0], zorder=2)
sns.scatterplot(data=obs, x="km", y="t", marker="+", s=24, color="#58585a", linewidth=1.3,
                ax=ax, label=series_labels[1], zorder=3)
sns.scatterplot(data=res, x="km", y="t", marker="o", s=24, color="#1c1c1c", linewidth=0,
                ax=ax, label=series_labels[2], zorder=4)

ax.set_xlim(0, 120)
ax.set_ylim(-1, 6)
ax.xaxis.set_major_locator(MultipleLocator(10))
ax.xaxis.set_minor_locator(MultipleLocator(1))
ax.yaxis.set_major_locator(MultipleLocator(1))
ax.yaxis.set_minor_locator(MultipleLocator(0.2))
ax.tick_params(which="both", direction="out", top=True, right=True, colors=ink,
               labelsize=15, width=1.2, pad=2)
ax.tick_params(which="major", length=5)
ax.tick_params(which="minor", length=2.5)
ax.tick_params(labeltop=False, labelright=False)
for sp in ax.spines.values():
    sp.set_linewidth(1.6)
    sp.set_color(ink)

ax.set_xlabel("Model Space (km)", fontsize=19, color=ink)
ax.set_ylabel("T-X/3.5 (s)", fontsize=19, color=ink)
ax.xaxis.set_label_coords(0.528, -0.043)
ax.yaxis.set_label_coords(-0.019, 0.58)

for (txt, xpos, ha), pad in zip(places, place_pad):
    ax.annotate(txt, xy=(xpos, 1.0), xycoords=("data", "axes fraction"), xytext=(0, pad),
                textcoords="offset points", ha=ha, va="bottom", multialignment=ha,
                fontsize=19, color=ink, linespacing=1.35, annotation_clip=False)

fig.text(48 / 1518, 7 / 974, "B.", fontsize=20, color=ink, va="baseline", ha="left")

handles, labels = ax.get_legend_handles_labels()
leg = ax.legend(handles, labels, title=legend_title, loc="upper left",
                bbox_to_anchor=(0.0042, 0.9866), borderaxespad=0, fontsize=19.5, title_fontsize=19.5,
                frameon=True, fancybox=False, framealpha=1, edgecolor=ink, alignment="center",
                handlelength=0.8, handletextpad=0.2, labelspacing=0.33, borderpad=0.22)
leg.get_frame().set_linewidth(1.8)
for t in leg.get_texts():
    t.set_color(ink)
leg.get_title().set_color(ink)

fig.savefig("out.png", dpi=100)
